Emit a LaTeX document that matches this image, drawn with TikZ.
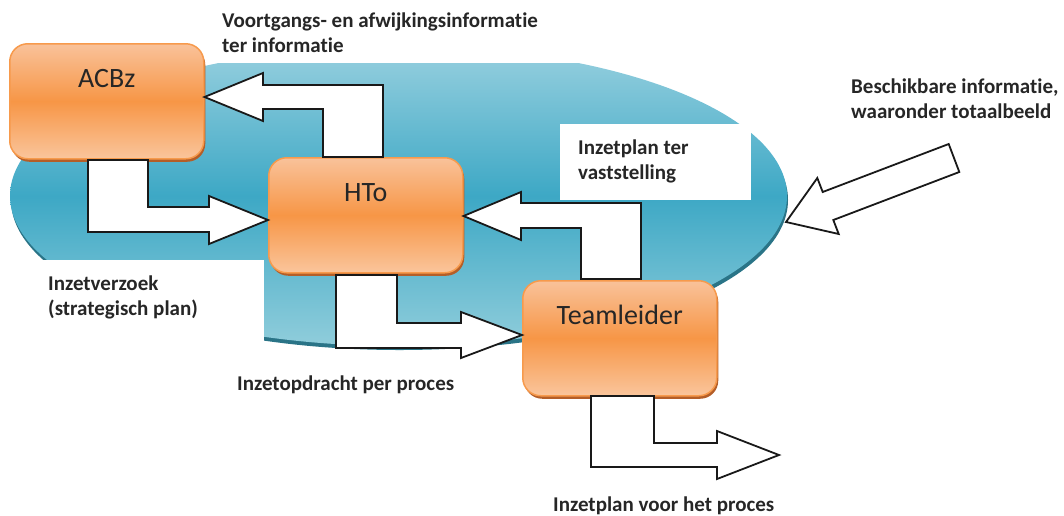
\documentclass[tikz,border=0pt]{standalone}
\usepackage{fontspec}
\setmainfont{Carlito}[Ligatures=NoCommon]
\usetikzlibrary{shadows}

\definecolor{ellTop}{HTML}{98D0DF}
\definecolor{ellMid}{HTML}{3DA8C5}
\definecolor{ellBot}{HTML}{90CDDB}
\definecolor{ellRim}{HTML}{2A7487}
\definecolor{boxTop}{HTML}{F9C29A}
\definecolor{boxMid}{HTML}{F79646}
\definecolor{boxBot}{HTML}{FAC59C}
\definecolor{boxEdge}{HTML}{F79A4C}
\definecolor{boxShade}{HTML}{B45E28}
\definecolor{inkText}{HTML}{262626}

\begin{document}
\begin{tikzpicture}[x=1pt,y=-1pt,
  stage/.style={rectangle, rounded corners=18pt, minimum width=194pt,
    minimum height=115pt, inner sep=0pt, anchor=north west,
    top color=boxTop, bottom color=boxBot, middle color=boxMid,
    draw=boxEdge, line width=1.5pt,
    drop shadow={shadow xshift=1.5pt, shadow yshift=-3pt, fill=boxShade, opacity=1},
    font=\fontsize{28}{30}\selectfont, text=inkText,
    text height=20pt, text depth=47pt},
  caption/.style={font=\bfseries\fontsize{21}{25}\selectfont, text=inkText,
    align=left, inner sep=0pt, anchor=base west},
  flow/.style={draw=black!90, fill=white, line width=1.8pt, line join=miter}
]
\useasboundingbox (0,0) rectangle (1064,515);

% the shared working area: a shaded disc with a darker rim below
\fill[ellRim] (399.5,200) ellipse [x radius=388.5, y radius=150];
\shade[top color=ellTop, bottom color=ellBot, middle color=ellMid]
  (398.5,196) ellipse [x radius=388.5, y radius=150];

% white panels behind the captions that sit on the disc
\fill[white] (200,0) rectangle (590,63);
\fill[white] (560,124) rectangle (751,200);
\fill[white] (0,260) rectangle (264,356);

% the three parties
\node[stage] (acbz) at (9,43) {ACBz};
\node[stage] (hto)  at (268,157) {HTo};
\node[stage] (team) at (522,280) {Teamleider};

% block arrows between the parties
\draw[flow] (88,160) -- (148,160) -- (148,207) -- (209,207) -- (209,196)
  -- (hto.west |- 0,220) -- (209,244) -- (209,232) -- (88,232) -- cycle;
\draw[flow] (acbz.east |- 0,97) -- (263,73) -- (263,85) -- (383,85)
  -- (383,157) -- (323,157) -- (323,109) -- (263,109) -- (263,121) -- cycle;
\draw[flow] (hto.east |- 0,216) -- (521,192) -- (521,203) -- (641,203)
  -- (641,279) -- (581,279) -- (581,228) -- (521,228) -- (521,240) -- cycle;
\draw[flow] (336,275) -- (397,275) -- (397,323) -- (461,323) -- (461,312)
  -- (team.west |- 0,335) -- (461,358) -- (461,348) -- (336,348) -- cycle;

\coordinate (procesOut) at (779,455);
\draw[flow] (591,396) -- (654,396) -- (654,443) -- (717,443) -- (717,431)
  -- (procesOut) -- (717,479) -- (717,467) -- (591,467) -- cycle;

% incoming information
\coordinate (ringEdge) at (786,222);
\draw[flow] (ringEdge) -- (817.3,178) -- (822.7,192) -- (948.7,144)
  -- (959.3,172) -- (833.3,220) -- (838.7,234) -- cycle;

% captions (anchored on the baseline of their last line)
\node[caption] (lblVoort) at (222,52)
  {Voortgangs- en afwijkingsinformatie\\ter informatie};
\node[caption] (lblPlan) at (578,179) {Inzetplan ter\\vaststelling};
\node[caption] (lblVerzoek) at (48,315) {Inzetverzoek\\(strategisch plan)};
\node[caption] (lblBeschik) at (851,118)
  {Beschikbare informatie,\\waaronder totaalbeeld};
\node[caption] (lblOpdracht) at (237,390) {Inzetopdracht per proces};
\node[caption] (lblProces) at (553,511) {Inzetplan voor het proces};
\end{tikzpicture}
\end{document}
